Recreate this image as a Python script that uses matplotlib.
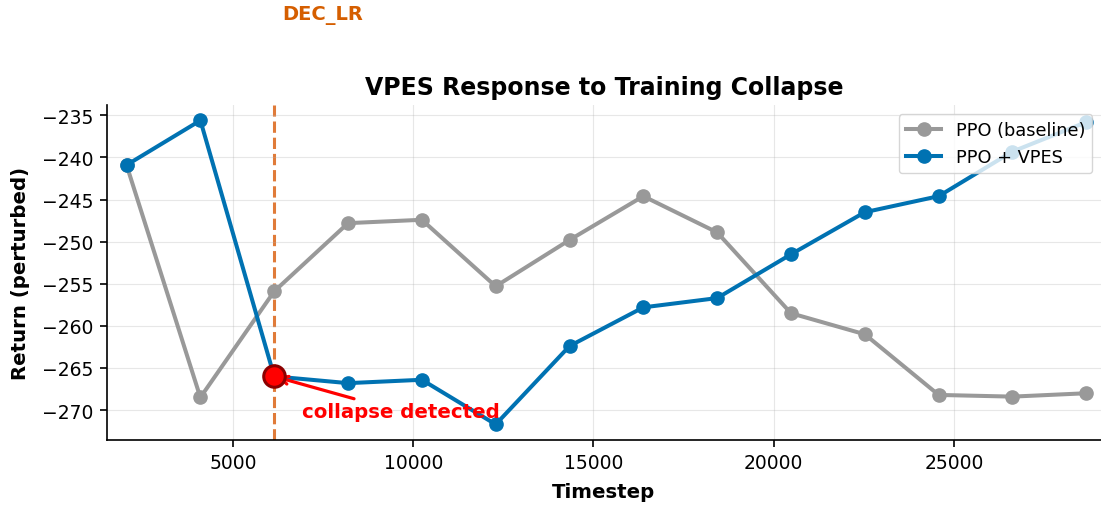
import numpy as np
import matplotlib
matplotlib.use("Agg")
import matplotlib.pyplot as plt
import matplotlib.transforms as mtransforms

timesteps = [2048, 4096, 6144, 8192, 10240, 12288, 14336, 16384,
             18432, 20480, 22528, 24576, 26624, 28672]
ppo_baseline = [-240.9, -268.5, -255.9, -247.8, -247.4, -255.3, -249.8,
                -244.6, -248.9, -258.5, -261.0, -268.2, -268.4, -268.0]
ppo_vpes = [-240.9, -235.6, -266.0, -266.8, -266.4, -271.7, -262.4,
            -257.8, -256.7, -251.5, -246.5, -244.6, -239.3, -235.8]
collapse_step = 6144
collapse_value = -266.0
event_label = "DEC_LR"

fig = plt.figure(figsize=(11.01, 5.06), dpi=100)
ax = fig.add_axes([0.097, 0.1285, 0.903, 0.6615])

ax.plot(timesteps, ppo_baseline, color="#999999", marker="o", lw=2.9,
        markersize=9.5, label="PPO (baseline)")
ax.plot(timesteps, ppo_vpes, color="#0072B2", marker="o", lw=2.9,
        markersize=9.5, label="PPO + VPES")

ax.axvline(collapse_step, color="#E07B39", ls="--", lw=2.2, zorder=1)
trans = mtransforms.blended_transform_factory(ax.transData, ax.transAxes)
ax.text(collapse_step + 220, 1.27, event_label, transform=trans,
        color="#D55E00", fontsize=14, fontweight="bold", ha="left", va="center")

ax.plot([collapse_step], [collapse_value], marker="o", color="red",
        markersize=15.5, markeredgecolor="darkred", markeredgewidth=2.2, zorder=5)
ax.annotate("collapse detected", xy=(collapse_step, collapse_value),
            xytext=(9650, -270.2), color="red", fontsize=14.2, fontweight="bold",
            ha="center", va="center",
            arrowprops=dict(arrowstyle="->", color="red", lw=2.3), zorder=4)

ax.set_xlim(1500, 29080)
ax.set_ylim(-273.55, -233.8)
ax.set_xticks([5000, 10000, 15000, 20000, 25000])
ax.set_yticks(np.arange(-270, -234, 5))
ax.tick_params(labelsize=13.5, length=5, width=1.2, pad=4.5)
for s in ax.spines.values():
    s.set_linewidth(1.2)
ax.grid(True, alpha=0.3)
ax.spines["top"].set_visible(False)
ax.spines["right"].set_visible(False)

ax.set_xlabel("Timestep", fontsize=14.2, fontweight="bold", labelpad=7)
ax.set_ylabel("Return (perturbed)", fontsize=14.2, fontweight="bold", labelpad=8.5)
ax.set_title("VPES Response to Training Collapse", fontsize=17,
             fontweight="bold", pad=8)
ax.legend(loc="upper right", fontsize=12.8)

fig.savefig("out.png", dpi=100)
